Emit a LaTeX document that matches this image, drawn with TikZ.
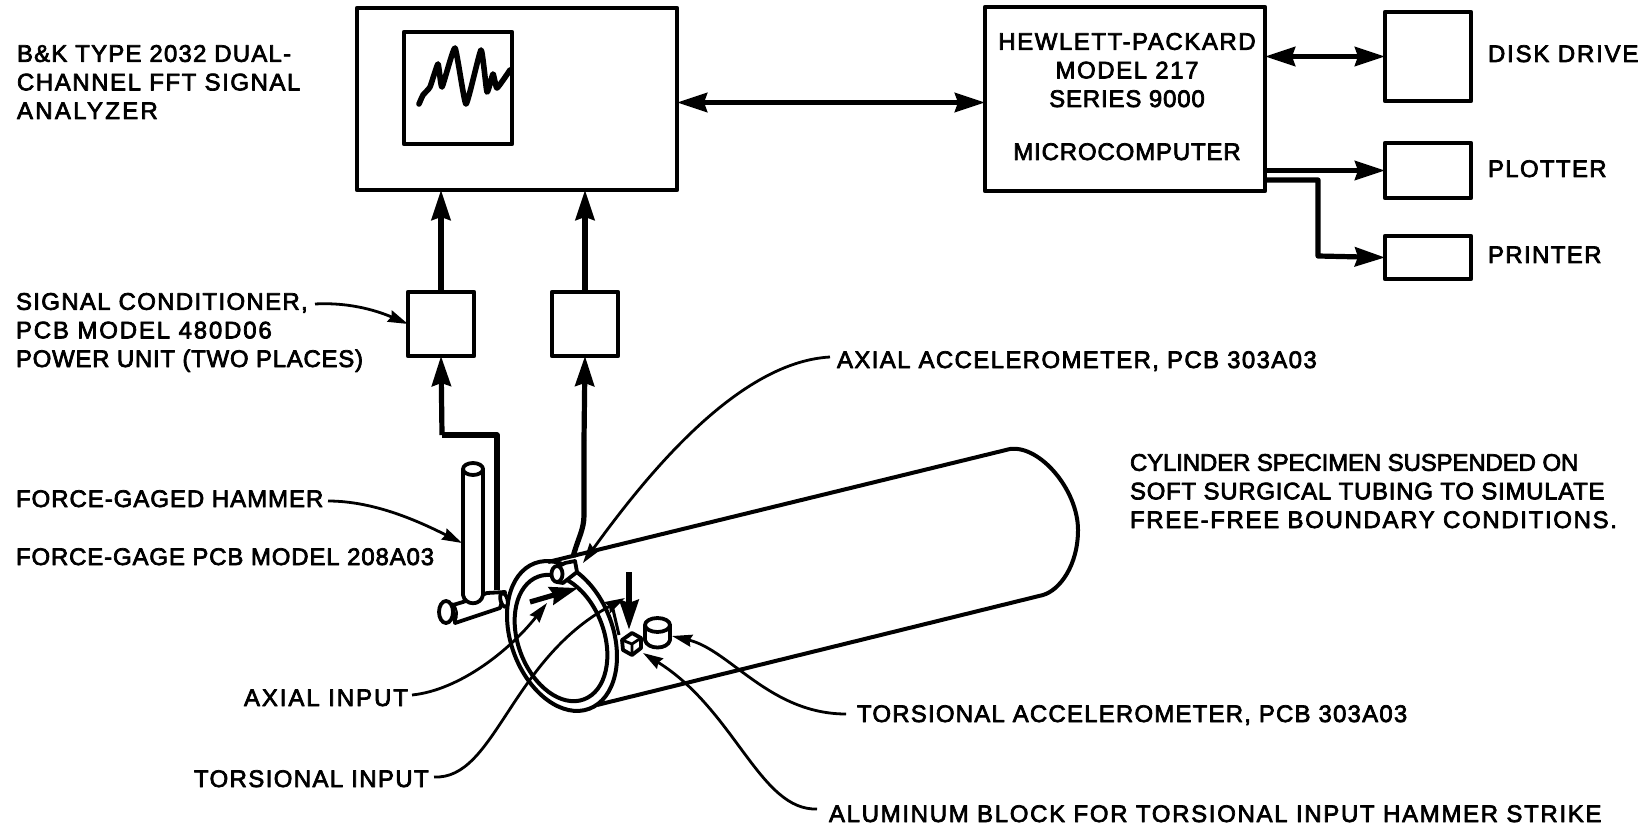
\documentclass[tikz,border=0pt]{standalone}
\usepackage{fontspec}
\usetikzlibrary{arrows.meta,calc}
\newfontfamily\lab[FakeBold=3]{Liberation Sans}
\newcommand{\LSp}[1]{\addfontfeature{LetterSpace=#1}}
\tikzset{
  boxn/.style={draw,line width=2.2pt,inner sep=0pt,outer sep=0pt,fill=white},
  lbl/.style={anchor=base west,inner sep=0pt,outer sep=0pt,align=left,font=\fontsize{12pt}{14.3pt}\selectfont\lab\addfontfeature{LetterSpace=#1}},
  ctr/.style={anchor=base,inner sep=0pt,outer sep=0pt,align=center,font=\fontsize{12pt}{14.3pt}\selectfont\lab\addfontfeature{LetterSpace=#1}},
  thick arrow/.style={line width=2.6pt,-{Stealth[length=15pt,width=9.5pt,inset=1.5pt]}},
  both arrow/.style={line width=2.6pt,{Stealth[length=15pt,width=9.5pt,inset=1.5pt]}-{Stealth[length=15pt,width=9.5pt,inset=1.5pt]}},
  leader/.style={line width=1.4pt,-{Stealth[length=10pt,width=6pt,inset=1pt]}},
  part/.style={line width=1.9pt,fill=white},
  ringl/.style={line width=2pt}
}
\begin{document}
\begin{tikzpicture}[x=0.5pt,y=-0.5pt,line join=round]
\useasboundingbox (0,0) rectangle (1647,828);
% boxes
\node[boxn,minimum width=160pt,minimum height=91pt] (an) at (517,99) {};
\node[boxn,minimum width=54pt,minimum height=56pt] (scr) at (458,88) {};
\draw[line width=2.8pt,line cap=round] plot[smooth,tension=0.25] coordinates {(419,104)(423,95)(430,87)(438,64)(442,87)(455,48)(466,104)(481,50)(487,92)(493,74)(497,88)(510,70)};
\node[boxn,minimum width=140pt,minimum height=92pt] (hp) at (1125,99) {};
\node[boxn,minimum width=43pt,minimum height=44.5pt] (disk) at (1428,56.5) {};
\node[boxn,minimum width=43pt,minimum height=27.5pt] (plot) at (1428,170.5) {};
\node[boxn,minimum width=43pt,minimum height=21.5pt] (print) at (1428,257.5) {};
\node[boxn,minimum width=33pt,minimum height=32pt] (sc1) at (441,324) {};
\node[boxn,minimum width=33pt,minimum height=32pt] (sc2) at (585,324) {};
% text
\node[lbl=5] (tan) at (17,119) {B\&K TYPE 2032 DUAL-\\\LSp{6.5}CHANNEL FFT SIGNAL\\\LSp{9.5}ANALYZER};
\node[ctr=6.5] (thp) at (1127,107) {HEWLETT-PACKARD\\MODEL 217\\\LSp{3.5}SERIES 9000};
\node[ctr=3.5] (thp2) at (1127,160) {MICROCOMPUTER};
\node[lbl=7.5] (tdisk) at (1488,62) {DISK DRIVE};
\node[lbl=5.5] (tplot) at (1488,177) {PLOTTER};
\node[lbl=5.7] (tprint) at (1488,263) {PRINTER};
\node[lbl=5.5] (tsc) at (16,367) {SIGNAL CONDITIONER,\\\LSp{7.6}PCB MODEL 480D06\\\LSp{3}POWER UNIT (TWO PLACES)};
\node[lbl=4] (tham) at (16,507) {FORCE-GAGED HAMMER};
\node[lbl=3.5] (tgage) at (16,565) {FORCE-GAGE PCB MODEL 208A03};
\node[lbl=5.7] (tax) at (837,368) {AXIAL ACCELEROMETER, PCB 303A03};
\node[lbl=-0.6] (tcyl) at (1130,528) {CYLINDER SPECIMEN SUSPENDED ON\\\LSp{3}SOFT SURGICAL TUBING TO SIMULATE\\\LSp{6.9}FREE-FREE BOUNDARY CONDITIONS.};
\node[lbl=8] (tain) at (244,706) {AXIAL INPUT};
\node[lbl=5.7] (ttin) at (194,787) {TORSIONAL INPUT};
\node[lbl=5] (ttac) at (857,722) {TORSIONAL ACCELEROMETER, PCB 303A03};
\node[lbl=7] (talu) at (829,822) {ALUMINUM BLOCK FOR TORSIONAL INPUT HAMMER STRIKE};
% block connectors
\draw[both arrow] ([yshift=-1.75pt]an.east) -- ([yshift=-1.75pt]an.east -| hp.west);
\draw[both arrow] (hp.east |- disk.west) -- (disk.west);
\draw[thick arrow] (hp.east |- plot.west) -- (plot.west);
\coordinate (pb) at (1318,256);
\draw[thick arrow] ($(hp.east)+(0,81)$) -| (pb) -- (print.west);
\draw[thick arrow] (sc1.north) -- (sc1.north |- an.south);
\draw[thick arrow] (sc2.north) -- (sc2.north |- an.south);
% cylinder
\coordinate (ct) at (548,562);
\coordinate (cb) at (597,705);
\draw[line width=2pt] (ct) -- (1010,449) .. controls (1040,445) and (1078,490) .. (1078,530) .. controls (1078,565) and (1060,590) .. (1043,595) -- (cb);
\draw[ringl,rotate around={110.5:(562,636)}] (562,636) ellipse [x radius=77.7,y radius=51];
\draw[ringl,rotate around={110.5:(561,638)}] (561,638) ellipse [x radius=65.5,y radius=43];
% mount line
\draw[line width=1.5pt] (612,605) -- (619,635);
% hammer
\coordinate (hc) at (497,590);
\draw[line width=2.6pt] (hc) -- (497,435) -- (442,435);
\draw[thick arrow] (442,435) -- (sc1.south);
\draw[part] (463,602) -- (453,605) -- (455,623) -- (500,608) -- (505,592) -- (487,593) -- cycle;
\draw[part,rotate around={15:(504,600)}] (504,600) ellipse [x radius=3.5,y radius=7];
\draw[part] (446,612) ellipse [x radius=7,y radius=11];
\draw[line width=1pt] (452,603) .. controls (458,608) and (458,616) .. (455,622);
\draw[part] (463,469) -- (463,595) .. controls (465,606) and (481,606) .. (483,595) -- (483,469);
\draw[part] (473,469) ellipse [x radius=10,y radius=6];
% cable 2
\draw[line width=2.6pt] (573,557) .. controls (578,538) and (584,530) .. (584,515) -- (584,440);
\draw[thick arrow] (584,440) -- (sc2.south);
% accelerometer on ring
\draw[part] (557,567) -- (565,563) -- (575,561) -- (577,572) -- (563,583) -- (557,582) -- cycle;
\draw[part] (557,574) ellipse [x radius=5.5,y radius=8];
% thick arrows at the cylinder
\coordinate (ai0) at (530,602);
\coordinate (ai1) at (578,588);
\coordinate (ti0) at (629,572);
\coordinate (ti1) at (629,630);
\draw[line width=2.6pt,-{Stealth[length=14pt,width=9pt,inset=1.5pt]}] (ai0) -- (ai1);
\draw[line width=3pt,-{Stealth[length=15pt,width=9.5pt,inset=1.5pt]}] (ti0) -- (ti1);
% block and can
\draw[part] (622,640) -- (632,633) -- (641,638) -- (641,648) -- (632,655) -- (623,650) -- cycle;
\draw[line width=1.4pt] (622,640) -- (632,644) -- (641,638) (632,644) -- (632,655);
\draw[part] (645,625) -- (645,640) .. controls (647,650) and (668,650) .. (670,640) -- (670,625);
\draw[part] (657.5,625) ellipse [x radius=12.5,y radius=7];
% leaders
\coordinate (s1) at (315,304);
\coordinate (s2) at (328,501);
\coordinate (s3) at (830,357);
\coordinate (s4) at (412,695);
\coordinate (s5) at (434,777);
\coordinate (s6) at (846,714);
\coordinate (s7) at (817,809);
\draw[leader] (s1) .. controls (352,302) and (380,312) .. (sc1.west);
\draw[leader] (s2) .. controls (375,501) and (420,522) .. (462,543);
\draw[leader] (s3) .. controls (740,362) and (650,470) .. (583,563);
\draw[leader] (s4) .. controls (460,690) and (510,650) .. (547,603);
\draw[leader] (s5) .. controls (495,780) and (510,660) .. (625,598);
\draw[leader] (s6) .. controls (770,714) and (730,650) .. (672,636);
\draw[leader] (s7) .. controls (760,811) and (735,710) .. (643,653);
\end{tikzpicture}
\end{document}
